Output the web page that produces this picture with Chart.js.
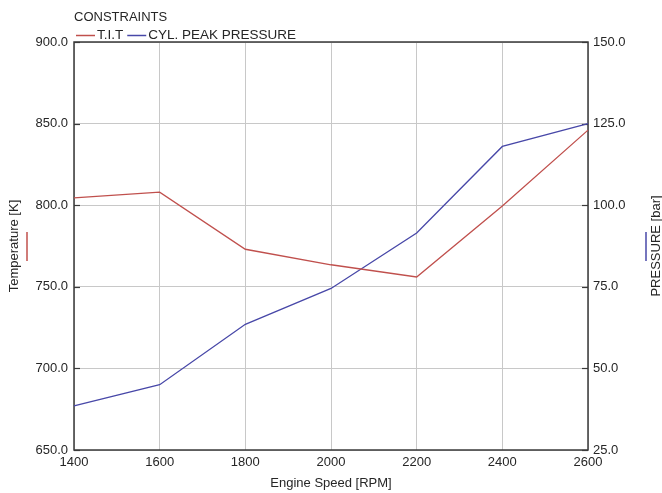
<!DOCTYPE html>
<html>
<head>
<meta charset="utf-8">
<title>Constraints</title>
<script src="https://cdn.jsdelivr.net/npm/chart.js@4.4.1/dist/chart.umd.min.js"></script>
<style>
  html, body { margin: 0; padding: 0; background: #fff; }
  #wrap { width: 662px; height: 493px; }
</style>
</head>
<body>
<div id="wrap"><canvas id="constraintsChart" width="662" height="493"></canvas></div>
<script>
// engine speed sweep
const speeds = ['1400', '1600', '1800', '2000', '2200', '2400', '2600'];
// turbine inlet temperature [K]
const titValues = [804.5, 808, 773, 763.5, 756, 799.5, 846];
// cylinder peak pressure [bar]
const peakPressure = [38.5, 45, 63.5, 74.5, 91.5, 118, 125];

const RED = '#c0504d';
const BLUE = '#4848a8';
const FONT = "'Liberation Sans', Arial, sans-serif";
const TEXT = '#262626';

// frame, inward ticks, legend and axis titles
const decor = {
    id: 'decor',
    beforeDatasetsDraw(chart) {
        const { ctx, chartArea: a } = chart;
        ctx.save();
        ctx.strokeStyle = '#3a3a3a';
        ctx.lineWidth = 1.5;
        ctx.strokeRect(a.left, a.top, a.right - a.left, a.bottom - a.top);
        ctx.lineWidth = 1.2;
        [['yT', a.left, 1], ['yP', a.right, -1]].forEach(([id, x0, dir]) => {
            const s = chart.scales[id];
            s.ticks.forEach(t => {
                const y = Math.round(s.getPixelForValue(t.value)) + 0.5;
                ctx.beginPath();
                ctx.moveTo(x0, y);
                ctx.lineTo(x0 + dir * 6, y);
                ctx.stroke();
            });
        });
        ctx.restore();
    },
    afterDraw(chart) {
        const { ctx, chartArea: a } = chart;
        ctx.save();
        ctx.font = '13px ' + FONT;
        ctx.fillStyle = TEXT;
        ctx.textBaseline = 'middle';
        ctx.textAlign = 'left';
        ctx.fillText('CONSTRAINTS', a.left, 17);

        // legend row
        ctx.font = '13.5px ' + FONT;
        let x = a.left + 2;
        chart.data.datasets.forEach(ds => {
            ctx.strokeStyle = ds.borderColor;
            ctx.lineWidth = 1.5;
            ctx.beginPath();
            ctx.moveTo(x, 35.5);
            ctx.lineTo(x + 19, 35.5);
            ctx.stroke();
            x += 21;
            ctx.fillText(ds.label, x, 35);
            x += ctx.measureText(ds.label).width + 4;
        });

        // x axis title
        ctx.font = '13px ' + FONT;
        ctx.textAlign = 'center';
        ctx.fillText('Engine Speed [RPM]', (a.left + a.right) / 2, 483);

        const midY = (a.top + a.bottom) / 2;
        [['Temperature [K]', 14, 27, RED], ['PRESSURE [bar]', 656, 646, BLUE]].forEach(([label, tx, mx, col]) => {
            ctx.save();
            ctx.translate(tx, midY);
            ctx.rotate(-Math.PI / 2);
            ctx.fillStyle = TEXT;
            ctx.fillText(label, 0, 0);
            ctx.restore();
            ctx.strokeStyle = col;
            ctx.lineWidth = 1.5;
            ctx.beginPath();
            ctx.moveTo(mx, midY - 14);
            ctx.lineTo(mx, midY + 15);
            ctx.stroke();
        });
        ctx.restore();
    }
};

new Chart(document.getElementById('constraintsChart'), {
    type: 'line',
    data: {
        labels: speeds,
        datasets: [{
            label: 'T.I.T',
            data: titValues,
            yAxisID: 'yT',
            borderColor: RED,
            borderWidth: 1.3,
            pointRadius: 0,
            tension: 0
        }, {
            label: 'CYL. PEAK PRESSURE',
            data: peakPressure,
            yAxisID: 'yP',
            borderColor: BLUE,
            borderWidth: 1.3,
            pointRadius: 0,
            tension: 0
        }]
    },
    options: {
        responsive: false,
        animation: false,
        layout: { padding: { top: 42, left: 0, right: 0, bottom: 0 } },
        plugins: {
            legend: { display: false },
            tooltip: { enabled: false }
        },
        scales: {
            x: {
                grid: { color: '#c8c8c8', drawTicks: false },
                border: { display: false },
                ticks: { font: { family: FONT, size: 13 }, color: TEXT, padding: 5, maxRotation: 0 },
                afterFit(s) { s.height = 43; }
            },
            yT: {
                position: 'left',
                min: 650,
                max: 900,
                grid: { color: '#c8c8c8', drawTicks: false },
                border: { display: false },
                ticks: {
                    stepSize: 50,
                    font: { family: FONT, size: 13 },
                    color: TEXT,
                    padding: 6,
                    callback: v => v.toFixed(1)
                },
                afterFit(s) { s.width = 74; }
            },
            yP: {
                position: 'right',
                min: 25,
                max: 150,
                grid: { drawOnChartArea: false, drawTicks: false },
                border: { display: false },
                ticks: {
                    stepSize: 25,
                    font: { family: FONT, size: 13 },
                    color: TEXT,
                    padding: 5,
                    callback: v => v.toFixed(1)
                },
                afterFit(s) { s.width = 74; }
            }
        }
    },
    plugins: [decor]
});
</script>
</body>
</html>
